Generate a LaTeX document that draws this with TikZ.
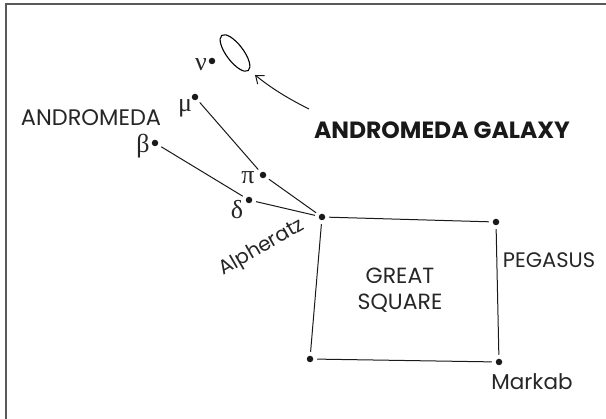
\documentclass[tikz,border=0pt]{standalone}
\usepackage{fontspec}
\setmainfont{Poppins}
\newfontfamily\greek{Liberation Serif}
\usetikzlibrary{shapes.geometric,arrows.meta}
\tikzset{
  star/.style={circle,fill=black!90,inner sep=0pt,minimum size=6.5pt,outer sep=4pt},
  conn/.style={line width=1pt,black!90},
  lbl/.style={inner sep=0pt,font=\fontsize{22}{26}\selectfont,text=black!85},
  glbl/.style={inner sep=0pt,font=\greek\fontsize{26}{28}\selectfont,text=black!85},
}
\begin{document}
\begin{tikzpicture}[x=1pt,y=-1pt]
\useasboundingbox (0,0) rectangle (606,419);
\draw[line width=1.3pt,black!65] (606,4) -- (6,4) -- (6,419);
% stars
\node[star] (nu) at (212,61) {};
\node[star] (mu) at (195,97) {};
\node[star] (beta) at (155,143) {};
\node[star] (pi) at (263,175) {};
\node[star] (delta) at (249,200) {};
\node[star] (alph) at (322,217) {};
\node[star] (sqtr) at (496,222) {};
\node[star] (sqbl) at (310,359) {};
\node[star] (markab) at (499,362) {};
% greek labels
\node[glbl] (lnu) at (201,65) {ν};
\node[glbl] (lmu) at (185,108) {μ};
\node[glbl] (lbeta) at (143,146) {β};
\node[glbl] (lpi) at (248,178) {π};
\node[glbl] (ldelta) at (237,210) {δ};
% connectors
\draw[conn] (mu) -- (pi);
\draw[conn] (pi) -- (alph);
\draw[conn] (beta) -- (delta);
\draw[conn] (delta) -- (alph);
\draw[conn] (alph) -- (sqtr);
\draw[conn] (sqtr) -- (markab);
\draw[conn] (markab) -- (sqbl);
\draw[conn] (sqbl) -- (alph);
% galaxy
\node[draw,ellipse,line width=1.1pt,minimum width=44pt,minimum height=17pt,inner sep=0pt,rotate=-53] (gal) at (235,53) {};
\coordinate (tail) at (309,109);
\coordinate (tip) at (255,75);
\draw[conn,-{Straight Barb[length=7pt,width=11pt,line width=1pt]}] (tail) .. controls (285,97) and (270,87) .. (tip);
% text labels
\node[lbl,font=\fontsize{22.5}{26}\selectfont] (andro) at (91,118) {ANDROMEDA};
\node[lbl,font=\bfseries\fontsize{23.5}{26}\selectfont,text=black!90] (galaxy) at (442,130) {ANDROMEDA GALAXY};
\node[lbl,rotate=30,font=\fontsize{20}{24}\selectfont] (alpheratz) at (262,248) {Alpheratz};
\node[lbl,align=center] (great) at (400,290) {GREAT\\SQUARE};
\node[lbl,font=\fontsize{21}{24}\selectfont] (pegasus) at (549,260) {PEGASUS};
\node[lbl,font=\fontsize{21.5}{24}\selectfont] (markabl) at (532,382) {Markab};
\end{tikzpicture}
\end{document}
